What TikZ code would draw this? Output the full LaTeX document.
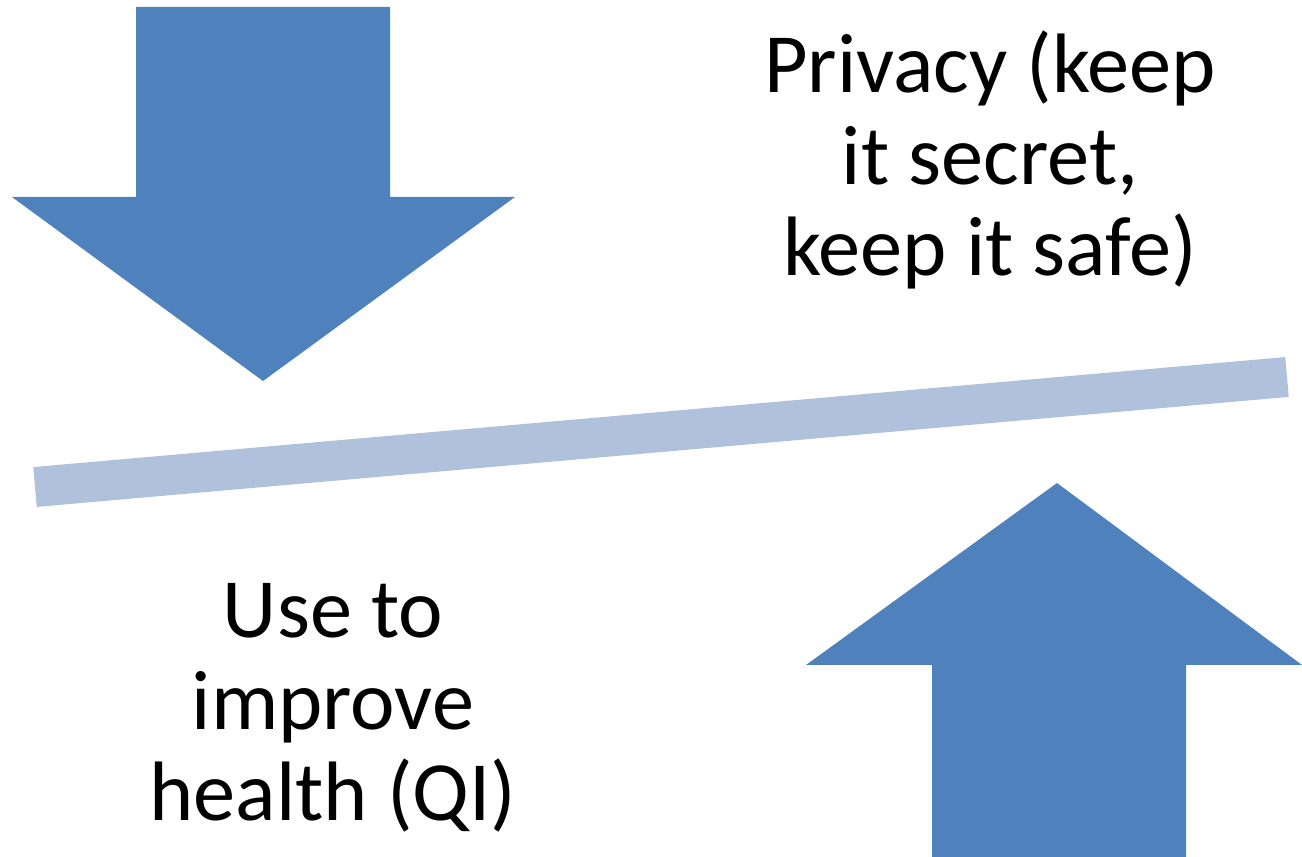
\documentclass[tikz,border=0pt]{standalone}
\usepackage{fontspec}
\setmainfont{Carlito}
\definecolor{arrowblue}{HTML}{4F81BD}
\definecolor{barblue}{HTML}{B0C1DC}
\tikzset{bigtext/.style={align=center,inner sep=0pt,font=\fontsize{48}{52}\selectfont}}
\begin{document}
\begin{tikzpicture}[x=.02cm,y=-.02cm]
\useasboundingbox (0,0) rectangle (1302,857);
% pushing down
\fill[arrowblue] (136,7)--(390,7)--(390,197)--(515,197)--(263,381)--(12,197)--(136,197)--cycle;
% pushing up
\fill[arrowblue] (932,857)--(1186,857)--(1186,665)--(1302,665)--(1057,483)--(806,665)--(932,665)--cycle;
% the balance
\draw[barblue,line width=.8cm] (35,487)--(1287,377);
\node[bigtext] (privacy) at (990,160) {Privacy (keep\\it secret,\\keep it safe)};
\node[bigtext] (use) at (333,708) {Use to\\improve\\health (QI)};
\end{tikzpicture}
\end{document}
